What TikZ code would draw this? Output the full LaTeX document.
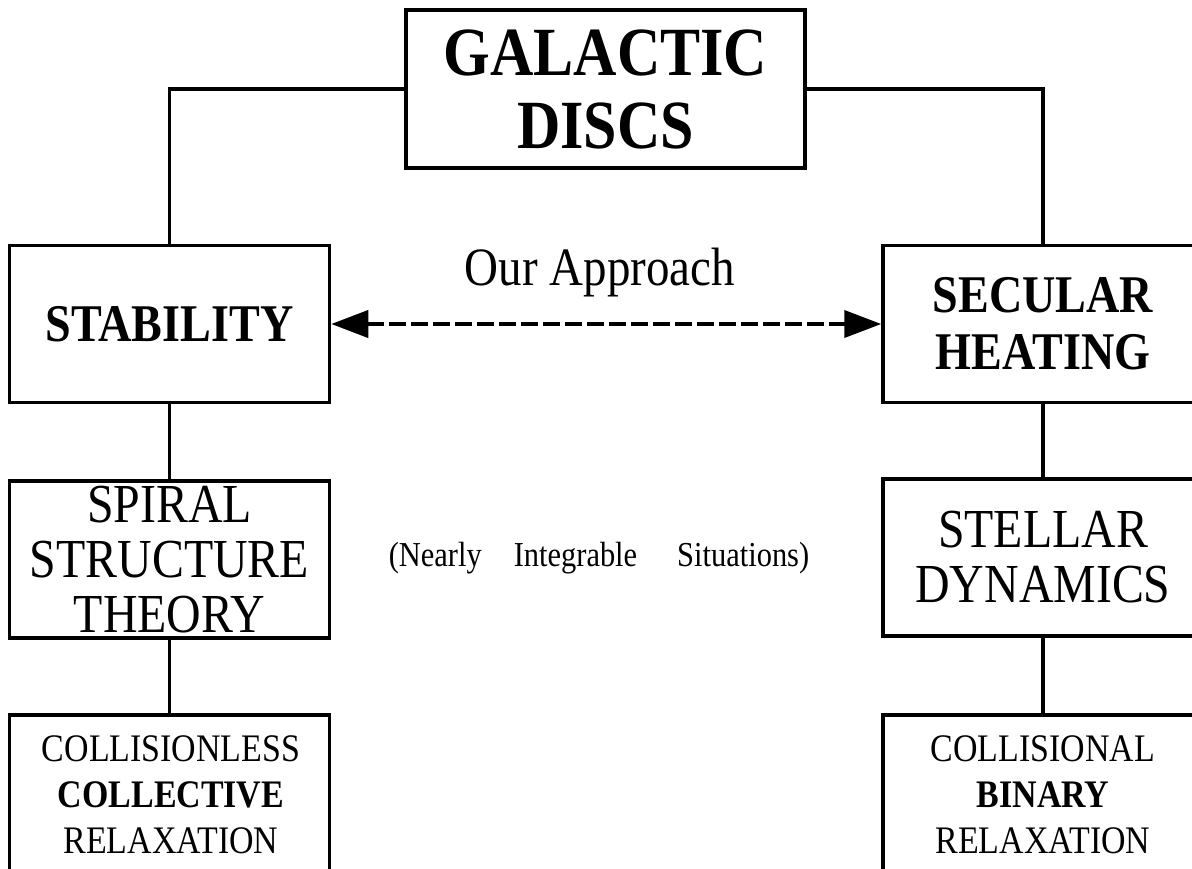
\documentclass[tikz,border=0pt]{standalone}
\usepackage{fontspec}
\setmainfont[FakeStretch=0.87]{Liberation Serif}
\usetikzlibrary{arrows.meta}

\tikzset{
  box/.style={draw, minimum width=320pt, minimum height=157pt, inner sep=0pt, align=center},
  bigtext/.style={font=\fontsize{55}{55}\selectfont},
  bigbold/.style={font=\bfseries\fontsize{53}{57}\selectfont},
  smalltext/.style={font=\fontsize{39}{46}\selectfont, align=center}
}

\begin{document}
\begin{tikzpicture}[x=1pt, y=-1pt, line width=3.5pt, line join=miter, >={Triangle[length=37pt, width=27pt]}]
  \useasboundingbox (0,0) rectangle (1192,868);
  \clip (0,0) rectangle (1192,868);

  % top of the tree
  \node[box, minimum width=399pt, minimum height=158pt, font=\bfseries\fontsize{69}{73}\selectfont] (discs) at (605.5,89) {GALACTIC\\DISCS};

  % the two columns
  \node[box, bigbold] (stab) at (169.5,324) {STABILITY};
  \node[box, bigbold] (secu) at (1043,324) {SECULAR\\HEATING};
  \node[box, bigtext] (spir) at (169.5,559.5) {SPIRAL\\STRUCTURE\\THEORY};
  \node[box, bigtext] (stel) at (1043,557.5) {STELLAR\\DYNAMICS};
  \node[box, anchor=north, minimum height=200pt] (cless) at (169.5,713) {};
  \node[box, anchor=north, minimum height=200pt] (coll) at (1043,713) {};

  \node[smalltext] (clesstxt) at (171,795) {COLLISIONLESS\\\textbf{COLLECTIVE}\\RELAXATION};
  \node[smalltext] (colltxt) at (1043,795) {COLLISIONAL\\\textbf{BINARY}\\RELAXATION};

  % connectors
  \draw (discs.west) -| (stab.north);
  \draw (discs.east) -| (secu.north);
  \draw (stab.south) -- (spir.north);
  \draw (spir.south) -- (cless.north);
  \draw (secu.south) -- (stel.north);
  \draw (stel.south) -- (coll.north);

  \draw[<->, line width=4pt, dash pattern=on 17pt off 5pt, line cap=butt] (stab.east) -- (secu.west);

  \node[font=\fontsize{54}{56}\selectfont] (appr) at (600,273) {Our Approach};
  \node[font=\fontsize{35}{36}\selectfont] (nis) at (599,558) {(Nearly\hspace{32pt}Integrable\hspace{40pt}Situations)};
\end{tikzpicture}
\end{document}
